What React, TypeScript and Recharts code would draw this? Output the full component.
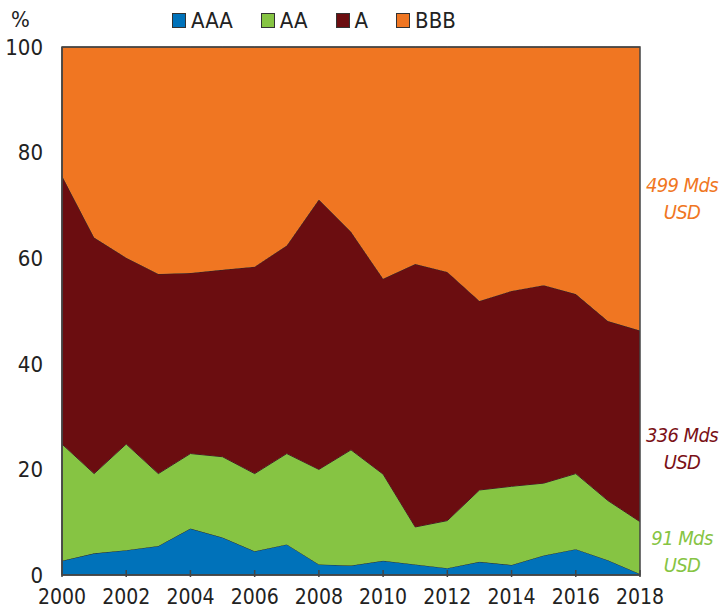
import React from "react";
import { AreaChart, Area, XAxis, YAxis, ReferenceArea } from "recharts";

const years = [2000, 2001, 2002, 2003, 2004, 2005, 2006, 2007, 2008, 2009, 2010, 2011, 2012, 2013, 2014, 2015, 2016, 2017, 2018];
const aaa = [2.7, 4.1, 4.7, 5.5, 8.8, 7.1, 4.5, 5.8, 2.0, 1.8, 2.7, 2.0, 1.3, 2.5, 1.9, 3.7, 4.9, 2.8, 0.2];
const aa = [22.1, 15.1, 20.1, 13.7, 14.2, 15.3, 14.7, 17.2, 18.0, 21.9, 16.4, 7.1, 9.0, 13.6, 14.9, 13.7, 14.3, 11.3, 9.9];
const a = [50.8, 44.7, 35.3, 37.8, 34.2, 35.4, 39.2, 39.4, 51.1, 41.3, 37.0, 49.8, 47.1, 35.8, 37.0, 37.5, 34.0, 34.0, 36.2];
const bbb = [24.4, 36.1, 39.9, 43.0, 42.8, 42.2, 41.6, 37.6, 28.9, 35.0, 43.9, 41.1, 42.6, 48.1, 46.2, 45.1, 46.8, 51.9, 53.7];

const xTicks = [2000, 2002, 2004, 2006, 2008, 2010, 2012, 2014, 2016, 2018];
const yTicks = [0, 20, 40, 60, 80, 100];

const series = [
  { key: "AAA", color: "#0072BA" },
  { key: "AA", color: "#86C443" },
  { key: "A", color: "#6B0D10" },
  { key: "BBB", color: "#F07622" },
];

const notes = [
  { lines: ["499 Mds", "USD"], color: "#F07622", top: 172 },
  { lines: ["336 Mds", "USD"], color: "#7A1016", top: 422 },
  { lines: ["91 Mds", "USD"], color: "#86C443", top: 525 },
];

const rows = years.map((year, i) => ({ year, AAA: aaa[i], AA: aa[i], A: a[i], BBB: bbb[i] }));

const FONT = '"DejaVu Sans Condensed", "Liberation Sans Narrow", Roboto, sans-serif';

function XTick(props: any) {
  const { x, y, payload } = props;
  return (
    <g>
      <line x1={x} x2={x} y1={y} y2={y - 7} stroke="#444" strokeWidth={1.5} />
      <text x={x} y={y + 27} textAnchor="middle" fontSize={21} fill="#222" fontFamily={FONT}>
        {payload.value}
      </text>
    </g>
  );
}

export default function App() {
  return (
    <div style={{ position: "absolute", left: 0, top: 0, width: 723, height: 608, fontFamily: FONT }}>
      <AreaChart width={723} height={608} data={rows} margin={{ top: 47, right: 83, bottom: 0, left: 0 }}>
        <XAxis
          dataKey="year"
          type="number"
          domain={[2000, 2018]}
          ticks={xTicks}
          height={33}
          tickSize={0}
          tickLine={false}
          axisLine={{ stroke: "#444", strokeWidth: 1.5 }}
          tick={<XTick />}
          interval={0}
        />
        <YAxis
          type="number"
          domain={[0, 100]}
          ticks={yTicks}
          width={62}
          tickLine={false}
          tickSize={0}
          tickMargin={19}
          axisLine={{ stroke: "#444", strokeWidth: 1.5 }}
          tick={{ fontSize: 22, fill: "#222", fontFamily: FONT }}
        />
        {series.map((s) => (
          <Area
            key={s.key}
            type="linear"
            dataKey={s.key}
            stackId="1"
            stroke="#2a2a2a"
            strokeWidth={1}
            fill={s.color}
            fillOpacity={1}
            isAnimationActive={false}
          />
        ))}
        <ReferenceArea x1={2000} x2={2018} y1={0} y2={100} fill="none" stroke="#444" strokeWidth={1.5} />
      </AreaChart>

      <div style={{ position: "absolute", left: 11, top: 7, fontSize: 22, color: "#222" }}>%</div>

      <div style={{ position: "absolute", left: 172, top: 8, display: "flex", alignItems: "center", fontSize: 22, color: "#222" }}>
        {series.map((s) => (
          <div key={s.key} style={{ display: "flex", alignItems: "center", marginRight: 28 }}>
            <span
              style={{ display: "inline-block", width: 12, height: 13, background: s.color, border: "1px solid #333", marginRight: 5 }}
            />
            <span>{s.key}</span>
          </div>
        ))}
      </div>

      {notes.map((n) => (
        <div
          key={n.lines[0]}
          style={{
            position: "absolute",
            left: 641,
            width: 82,
            top: n.top,
            textAlign: "center",
            fontStyle: "italic",
            fontSize: 20,
            letterSpacing: -0.6,
            lineHeight: "27px",
            whiteSpace: "nowrap",
            color: n.color,
          }}
        >
          {n.lines.map((l) => (
            <div key={l}>{l}</div>
          ))}
        </div>
      ))}
    </div>
  );
}
